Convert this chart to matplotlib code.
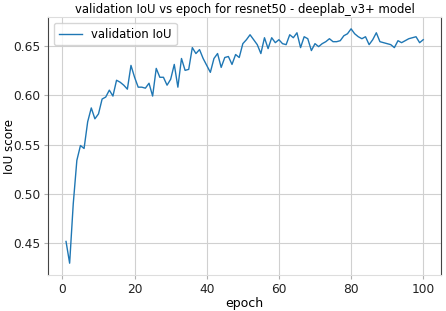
import numpy as np
import matplotlib
matplotlib.use("Agg")
import matplotlib.pyplot as plt

# validation IoU per epoch
epochs = list(range(1, 101))
val_iou = [
    0.452, 0.430, 0.490, 0.534, 0.549, 0.546, 0.573, 0.587, 0.576, 0.581,
    0.596, 0.598, 0.605, 0.599, 0.615, 0.613, 0.610, 0.606, 0.630, 0.618,
    0.608, 0.608, 0.607, 0.612, 0.599, 0.627, 0.618, 0.618, 0.610, 0.616,
    0.631, 0.608, 0.637, 0.625, 0.626, 0.648, 0.642, 0.646, 0.637, 0.630,
    0.623, 0.637, 0.642, 0.628, 0.638, 0.639, 0.631, 0.641, 0.638, 0.652,
    0.656, 0.661, 0.656, 0.651, 0.642, 0.658, 0.647, 0.658, 0.653, 0.656,
    0.652, 0.651, 0.661, 0.658, 0.663, 0.648, 0.659, 0.657, 0.645, 0.652,
    0.649, 0.652, 0.654, 0.657, 0.654, 0.654, 0.655, 0.660, 0.662, 0.667,
    0.662, 0.659, 0.657, 0.659, 0.651, 0.656, 0.663, 0.654, 0.653, 0.652,
    0.651, 0.648, 0.655, 0.653, 0.655, 0.657, 0.658, 0.659, 0.653, 0.656,
]
yticks = [0.45, 0.50, 0.55, 0.60, 0.65]
xticks = [0, 20, 40, 60, 80, 100]

plt.rcParams['font.family'] = 'DejaVu Sans'
fig = plt.figure(figsize=(4.46, 3.11), dpi=100)
ax = fig.add_axes([0.108, 0.116, 0.881, 0.829])

ax.plot(epochs, val_iou, color='#1f77b4', linewidth=1.0, label='validation IoU')

ax.set_xticks(xticks)
ax.set_yticks(yticks)
ax.set_yticklabels(['%.2f' % v for v in yticks])
ax.grid(True, color='#d0d0d0', linewidth=0.8)
ax.set_axisbelow(True)
ax.tick_params(labelsize=8.8, length=3, pad=2.5, color='#b0b0b0', labelcolor='#222222')

for side in ['top', 'bottom']:
    ax.spines[side].set_color('#dddddd')
for side in ['left', 'right']:
    ax.spines[side].set_color('#444444')

ax.set_title('validation IoU vs epoch for resnet50 - deeplab_v3+ model', fontsize=8.4, pad=3)
ax.set_xlabel('epoch', fontsize=9, labelpad=1)
ax.set_ylabel('IoU score', fontsize=8.6)
ax.yaxis.set_label_coords(-0.082, 0.5)
ax.legend(loc='upper left', fontsize=8.4, frameon=True, edgecolor='#cccccc')

fig.savefig('out.png', dpi=100)
